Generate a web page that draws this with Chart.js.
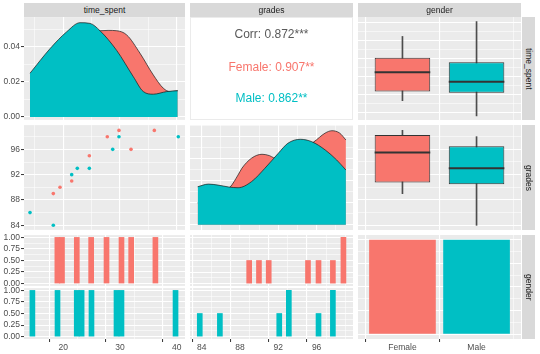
<!DOCTYPE html>
<html>
<head>
<meta charset="utf-8">
<script src="https://cdn.jsdelivr.net/npm/chart.js@4/dist/chart.umd.min.js"></script>
<style>
  body { margin: 0; background: #fff; }
  #fig { position: relative; width: 540px; height: 354px; overflow: hidden;
         font-family: "Liberation Sans", Arial, sans-serif; }
  #fig canvas { position: absolute; }
  .strip { position: absolute; background: #d9d9d9; color: #1a1a1a; font-size: 8.5px;
           display: flex; align-items: center; justify-content: center; }
  .strip.v span { writing-mode: vertical-rl; }
  .cor { position: absolute; background: #fff; border: 1px solid #ebebeb; box-sizing: border-box; }
  .cor div { position: absolute; left: 0; right: 0; text-align: center; font-size: 12px; line-height: 14px; }
</style>
</head>
<body>
<div id="fig"></div>
<script>
const FEM = '#F8766D', MAS = '#00BFC4';
const FONTE = '"Liberation Sans", Arial, sans-serif';
const GENEROS = ['Female', 'Male'];

// densidade de time_spent
const densTempoXM = [14.13, 17.65, 20.6, 22.95, 24.71, 26.47, 29.42, 32.35, 34.11, 35.87, 38.24, 40.18];
const densTempoYM = [0.025, 0.039, 0.0487, 0.0539, 0.0535, 0.0493, 0.038, 0.023, 0.0145, 0.013, 0.0145, 0.015];
const densTempoXF = [14.13, 17.65, 20.6, 22.95, 24.71, 26.47, 27.9, 29.42, 31.18, 33.53, 35.87, 37.64, 38.82, 40.18];
const densTempoYF = [0.02, 0.035, 0.045, 0.05, 0.051, 0.0493, 0.0495, 0.0493, 0.0469, 0.0364, 0.024, 0.0164, 0.0145, 0.015];

// densidade de grades
const densNotaXM = [83.58, 84.7, 85.7, 86.8, 87.8, 89.2, 90.6, 92.0, 93.0, 94.3, 95.5, 96.9, 98.1, 99.06];
const densNotaYM = [0.0346, 0.037, 0.0361, 0.0344, 0.0337, 0.0392, 0.0514, 0.065, 0.0741, 0.0777, 0.0755, 0.068, 0.0589, 0.0498];
const densNotaXF = [83.58, 84.7, 85.7, 86.3, 86.95, 87.8, 88.2, 89.2, 90.3, 91.1, 91.5, 92.0, 93.0, 94.3, 95.0, 95.65, 96.9, 97.6, 98.4, 99.06];
const densNotaYF = [0.02, 0.024, 0.028, 0.031, 0.0341, 0.0453, 0.0514, 0.0605, 0.0641, 0.0628, 0.061, 0.0605, 0.063, 0.068, 0.072, 0.075, 0.0834, 0.0855, 0.0834, 0.0771];

// dispersão
const tempoF = [18.24, 19.42, 21.48, 24.59, 27.76, 29.82, 31.94, 36.05];
const notaF  = [89, 90, 91, 95, 98, 99, 96, 99];
const tempoM = [14.13, 18.24, 21.48, 22.47, 24.59, 28.71, 29.82, 40.28];
const notaM  = [86, 84, 92, 93, 93, 96, 98, 98];

// histogramas (centro do bin, contagem)
const histTempoF = [18.95, 19.77, 22.38, 24.91, 27.62, 30.26, 31.97, 36.24];
const contTempoF = [1, 1, 1, 1, 1, 1, 1, 1];
const histTempoM = [14.55, 18.98, 22.37, 23.23, 24.97, 29.38, 30.26, 39.79];
const contTempoM = [1, 1, 1, 1, 1, 1, 1, 1];
const histNotaF = [88.96, 89.98, 91.0, 95.1, 96.2, 97.7, 98.8];
const contNotaF = [1, 1, 1, 1, 1, 1, 2];
const histNotaM = [83.8, 85.9, 92.1, 93.1, 96.2, 97.7];
const contNotaM = [1, 1, 1, 2, 1, 2];

// boxplots: [min, q1, mediana, q3, max] por gênero
const boxTempo = [[18.4, 20.9, 26.2, 30.2, 36.1], [14.2, 20.6, 23.6, 29.0, 40.2]];
const boxNota  = [[89, 90.75, 95.5, 98.25, 99], [84, 90.5, 93, 96.5, 98]];

const contGenero = [8, 8];

const CORR = [
  { txt: 'Corr: 0.872***', cor: '#595959' },
  { txt: 'Female: 0.907**', cor: FEM },
  { txt: 'Male: 0.862**', cor: MAS },
];

// grades / rótulos dos eixos
const GRADE_TEMPO_X = [15, 20, 25, 30, 35, 40];
const MAIOR_TEMPO_X = [20, 30, 40];
const GRADE_TEMPO_Y = [15, 17.5, 20, 22.5, 25, 27.5, 30, 32.5, 35, 37.5, 40];
const MAIOR_TEMPO_Y = [15, 20, 25, 30, 35, 40];
const GRADE_NOTA = [84, 86, 88, 90, 92, 94, 96, 98];
const MAIOR_NOTA = [84, 88, 92, 96];
const GRADE_DENS = [0, 0.01, 0.02, 0.03, 0.04, 0.05];
const MAIOR_DENS = [0, 0.02, 0.04];
const GRADE_DENS2 = [0, 0.01, 0.02, 0.03, 0.04, 0.05, 0.06, 0.07, 0.08, 0.09];
const MAIOR_DENS2 = [0, 0.02, 0.04, 0.06, 0.08];
const GRADE_CONT = [0, 0.125, 0.25, 0.375, 0.5, 0.625, 0.75, 0.875, 1];
const MAIOR_CONT = [0, 0.25, 0.5, 0.75, 1];
const GRADE_CONT2 = [0, 0.25, 0.5, 0.75, 1, 1.25, 1.5, 1.75, 2];
const MAIOR_CONT2 = [0, 0.5, 1, 1.5, 2];
const GRADE_GEN_Y = [0, 1, 2, 3, 4, 5, 6, 7, 8];
const MAIOR_GEN_Y = [0, 2, 4, 6, 8];
const GRADE_GEN_X = [1, 2];

// posição dos painéis (px)
const C1 = [24, 185], C2 = [190, 353], C3 = [358, 521];
const R1 = [17, 120], R2 = [125, 230], R3 = [235, 339], R3a = [235, 286], R3b = [288, 339];
const FOLGA = 6, LARG_Y = 24, ALT_X = 14;

const fig = document.getElementById('fig');

Chart.register({
  id: 'fundo',
  beforeDraw(chart) {
    const { ctx, chartArea: a } = chart;
    ctx.save();
    ctx.fillStyle = '#ebebeb';
    ctx.fillRect(a.left, a.top, a.width, a.height);
    ctx.restore();
  },
});

const medianas = {
  id: 'medianas',
  afterDatasetsDraw(chart) {
    const ds = chart.data.datasets.find((d) => d.medianas);
    if (!ds) return;
    const meta = chart.getDatasetMeta(chart.data.datasets.indexOf(ds));
    const { ctx } = chart;
    ctx.save();
    ctx.strokeStyle = '#333333';
    ctx.lineWidth = 2;
    meta.data.forEach((el, i) => {
      const y = chart.scales.y.getPixelForValue(ds.medianas[i]);
      ctx.beginPath();
      ctx.moveTo(el.x - el.width / 2, y);
      ctx.lineTo(el.x + el.width / 2, y);
      ctx.stroke();
    });
    ctx.restore();
  },
};

function escala(min, max, grade, maiores, rotulo, tam) {
  const ehMaior = (v) => maiores.some((m) => Math.abs(m - v) < 1e-6);
  return {
    type: 'linear', min, max, offset: false,
    afterBuildTicks: (s) => { s.ticks = grade.map((v) => ({ value: v })); },
    afterFit: (s) => { if (s.isHorizontal()) s.height = tam; else s.width = tam; },
    border: { display: false },
    grid: {
      color: '#ffffff',
      lineWidth: (c) => (c.tick && ehMaior(c.tick.value) ? 1.1 : 0.55),
      drawTicks: tam > 0, tickLength: 3, tickWidth: 1,
      tickColor: (c) => (c.tick && ehMaior(c.tick.value) ? '#333333' : 'rgba(0,0,0,0)'),
    },
    ticks: {
      display: tam > 0, autoSkip: false, maxRotation: 0, padding: 1,
      color: '#4d4d4d', font: { size: 8.5, family: FONTE },
      callback: (v) => (ehMaior(v) ? rotulo(v) : ''),
    },
  };
}

function painel(cols, rows, comY, comX, config, plugins) {
  const [x0, x1] = cols, [y0, y1] = rows;
  const esq = comY ? LARG_Y : 0, baixo = comX ? ALT_X : 0;
  const cv = document.createElement('canvas');
  cv.width = x1 - x0 + esq + 2 * FOLGA;
  cv.height = y1 - y0 + baixo + 2 * FOLGA;
  cv.style.left = (x0 - esq - FOLGA) + 'px';
  cv.style.top = (y0 - FOLGA) + 'px';
  fig.appendChild(cv);
  config.options = Object.assign({
    responsive: false, animation: false, events: [],
    layout: { padding: FOLGA },
    plugins: { legend: { display: false }, tooltip: { enabled: false } },
  }, config.options);
  config.plugins = plugins || [];
  return new Chart(cv, config);
}

function strip(x0, y0, x1, y1, txt, vertical) {
  const d = document.createElement('div');
  d.className = 'strip' + (vertical ? ' v' : '');
  Object.assign(d.style, { left: x0 + 'px', top: y0 + 'px', width: (x1 - x0) + 'px', height: (y1 - y0) + 'px' });
  const s = document.createElement('span');
  s.textContent = txt;
  d.appendChild(s);
  fig.appendChild(d);
}

const curva = (xs, ys, cor, ordem) => ({
  type: 'line', data: xs.map((x, i) => ({ x, y: ys[i] })),
  backgroundColor: cor, borderColor: '#1a1a1a', borderWidth: 0.7,
  fill: 'origin', pointRadius: 0, cubicInterpolationMode: 'monotone', order: ordem,
});

const hist = (xs, ys, cor) => ({
  type: 'bar', data: xs.map((x, i) => ({ x, y: ys[i] })),
  backgroundColor: cor, barThickness: 5,
});

const pontos = (xs, ys, cor) => ({
  type: 'scatter', data: xs.map((x, i) => ({ x, y: ys[i] })),
  backgroundColor: cor, borderWidth: 0, pointRadius: 1.8,
});

function caixas(stats) {
  return [
    { type: 'bar', order: 2, grouped: false, barThickness: 1, backgroundColor: '#4d4d4d',
      data: stats.map((s, i) => ({ x: i + 1, y: [s[0], s[4]] })) },
    { type: 'bar', order: 1, grouped: false, backgroundColor: [FEM, MAS],
      borderColor: '#333333', borderWidth: 1, borderSkipped: false,
      barPercentage: 0.75, categoryPercentage: 1,
      medianas: stats.map((s) => s[2]),
      data: stats.map((s, i) => ({ x: i + 1, y: [s[1], s[3]] })) },
  ];
}

const X1 = [13.07, 41.46], X2 = [82.78, 99.8], X3 = [0.4, 2.6];
const Y_TEMPO = [13.07, 41.46], Y_NOTA = [83.26, 99.84];
const fmt2 = (v) => v.toFixed(2);
const txt = (v) => String(v);
const gen = (v) => GENEROS[v - 1];

// linha 1
painel(C1, R1, true, false, {
  type: 'line',
  data: { datasets: [curva(densTempoXM, densTempoYM, MAS, 1), curva(densTempoXF, densTempoYF, FEM, 2)] },
  options: { scales: {
    x: escala(X1[0], X1[1], GRADE_TEMPO_X, MAIOR_TEMPO_X, txt, 0),
    y: escala(-0.0017, 0.0571, GRADE_DENS, MAIOR_DENS, fmt2, LARG_Y),
  } },
});

const cor = document.createElement('div');
cor.className = 'cor';
Object.assign(cor.style, { left: C2[0] + 'px', top: R1[0] + 'px', width: (C2[1] - C2[0]) + 'px', height: (R1[1] - R1[0]) + 'px' });
[9, 42, 73].forEach((top, i) => {
  const t = document.createElement('div');
  t.textContent = CORR[i].txt;
  t.style.color = CORR[i].cor;
  t.style.top = top + 'px';
  cor.appendChild(t);
});
fig.appendChild(cor);

painel(C3, R1, false, false, {
  type: 'bar',
  data: { datasets: caixas(boxTempo) },
  options: { scales: {
    x: escala(X3[0], X3[1], GRADE_GEN_X, GRADE_GEN_X, gen, 0),
    y: escala(Y_TEMPO[0], Y_TEMPO[1], GRADE_TEMPO_Y, MAIOR_TEMPO_Y, txt, 0),
  } },
}, [medianas]);

// linha 2
painel(C1, R2, true, false, {
  type: 'scatter',
  data: { datasets: [pontos(tempoF, notaF, FEM), pontos(tempoM, notaM, MAS)] },
  options: { scales: {
    x: escala(X1[0], X1[1], GRADE_TEMPO_X, MAIOR_TEMPO_X, txt, 0),
    y: escala(Y_NOTA[0], Y_NOTA[1], GRADE_NOTA, MAIOR_NOTA, txt, LARG_Y),
  } },
});

painel(C2, R2, false, false, {
  type: 'line',
  data: { datasets: [curva(densNotaXM, densNotaYM, MAS, 1), curva(densNotaXF, densNotaYF, FEM, 2)] },
  options: { scales: {
    x: escala(X2[0], X2[1], GRADE_NOTA, MAIOR_NOTA, txt, 0),
    y: escala(-0.0047, 0.0907, GRADE_DENS2, MAIOR_DENS2, txt, 0),
  } },
});

painel(C3, R2, false, false, {
  type: 'bar',
  data: { datasets: caixas(boxNota) },
  options: { scales: {
    x: escala(X3[0], X3[1], GRADE_GEN_X, GRADE_GEN_X, gen, 0),
    y: escala(Y_NOTA[0], Y_NOTA[1], GRADE_NOTA, MAIOR_NOTA, txt, 0),
  } },
}, [medianas]);

// linha 3
painel(C1, R3a, true, false, {
  type: 'bar',
  data: { datasets: [hist(histTempoF, contTempoF, FEM)] },
  options: { scales: {
    x: escala(X1[0], X1[1], GRADE_TEMPO_X, MAIOR_TEMPO_X, txt, 0),
    y: escala(-0.05, 1.05, GRADE_CONT, MAIOR_CONT, fmt2, LARG_Y),
  } },
});
painel(C1, R3b, true, true, {
  type: 'bar',
  data: { datasets: [hist(histTempoM, contTempoM, MAS)] },
  options: { scales: {
    x: escala(X1[0], X1[1], GRADE_TEMPO_X, MAIOR_TEMPO_X, txt, ALT_X),
    y: escala(-0.05, 1.05, GRADE_CONT, MAIOR_CONT, fmt2, LARG_Y),
  } },
});
painel(C2, R3a, false, false, {
  type: 'bar',
  data: { datasets: [hist(histNotaF, contNotaF, FEM)] },
  options: { scales: {
    x: escala(X2[0], X2[1], GRADE_NOTA, MAIOR_NOTA, txt, 0),
    y: escala(-0.1, 2.1, GRADE_CONT2, MAIOR_CONT2, txt, 0),
  } },
});
painel(C2, R3b, false, true, {
  type: 'bar',
  data: { datasets: [hist(histNotaM, contNotaM, MAS)] },
  options: { scales: {
    x: escala(X2[0], X2[1], GRADE_NOTA, MAIOR_NOTA, txt, ALT_X),
    y: escala(-0.1, 2.1, GRADE_CONT2, MAIOR_CONT2, txt, 0),
  } },
});
painel(C3, R3, false, true, {
  type: 'bar',
  data: { datasets: [{ data: contGenero.map((c, i) => ({ x: i + 1, y: c })),
    backgroundColor: [FEM, MAS], barPercentage: 0.9, categoryPercentage: 1 }] },
  options: { scales: {
    x: escala(X3[0], X3[1], GRADE_GEN_X, GRADE_GEN_X, gen, ALT_X),
    y: escala(-0.4, 8.4, GRADE_GEN_Y, MAIOR_GEN_Y, txt, 0),
  } },
});

// faixas (strips)
strip(C1[0], 3, C1[1], R1[0], 'time_spent');
strip(C2[0], 3, C2[1], R1[0], 'grades');
strip(C3[0], 3, C3[1], R1[0], 'gender');
strip(C3[1] + 1, R1[0], 535, R1[1], 'time_spent', true);
strip(C3[1] + 1, R2[0], 535, R2[1], 'grades', true);
strip(C3[1] + 1, R3[0], 535, R3[1], 'gender', true);
</script>
</body>
</html>
